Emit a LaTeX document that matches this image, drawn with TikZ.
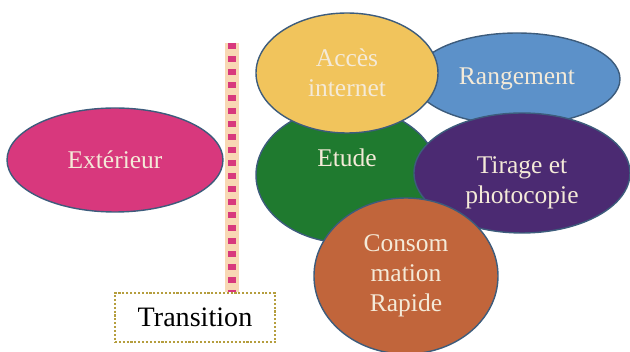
\documentclass[tikz,border=0pt]{standalone}
\usepackage{fontspec}
\setmainfont{Liberation Serif}
\usetikzlibrary{shapes.geometric,positioning}
\definecolor{exterieurpink}{HTML}{D8387D}
\definecolor{accesyellow}{HTML}{F1C45C}
\definecolor{rangeblue}{HTML}{5C91C9}
\definecolor{etudegreen}{HTML}{1F7A2F}
\definecolor{tiragepurple}{HTML}{4B2A72}
\definecolor{consobrown}{HTML}{C1653B}
\definecolor{rimblue}{HTML}{3D5C7C}
\definecolor{paletext}{HTML}{F4EAD8}
\definecolor{peach}{HTML}{F8D8B4}
\definecolor{olivedot}{HTML}{B59E3E}
\begin{document}
\begin{tikzpicture}
[node distance=1cm, font=\fontsize{14.5}{17}\selectfont]
\tikzstyle{zone}=[ellipse, draw=rimblue, line width=0.8pt, inner sep=0mm, text=paletext, align=center]
\useasboundingbox (0,0) rectangle (12.6,7.04);

\node[zone, fill=exterieurpink, minimum width=4.32cm, minimum height=2.08cm] (ext) at (2.30,3.84) {Ext\'erieur};

\node[zone, fill=rangeblue, minimum width=4.12cm, minimum height=1.84cm] (rang) at (10.34,5.46) {Rangement};
\node[zone, fill=etudegreen, minimum width=3.64cm, minimum height=2.72cm, label={[text=paletext, yshift=0.34cm]center:Etude}] (etude) at (6.94,3.54) {};
\node[zone, fill=tiragepurple, minimum width=4.32cm, minimum height=2.40cm, label={[text=paletext, align=center, yshift=-0.2cm]center:Tirage et\\photocopie}] (tir) at (10.44,3.58) {};
\node[zone, fill=accesyellow, minimum width=3.64cm, minimum height=2.40cm] (acces) at (6.94,5.58) {Acc\`es\\internet};
\node[zone, fill=consobrown, minimum width=3.68cm, minimum height=3.12cm] (conso) at (8.12,1.52) {Consom\\mation\\Rapide};

% transition
\node[draw=olivedot, densely dotted, line width=1.2pt, minimum width=3.2cm, minimum height=0.98cm, font=\fontsize{16}{19}\selectfont] (trans) at (3.90,0.69) {Transition};
\coordinate (top) at (4.64,6.18);
\draw[peach, line width=8pt] (top) -- (top |- trans.north);
\draw[exterieurpink, line width=4.4pt, dash pattern=on 3.6pt off 3.8pt] (top) -- (top |- trans.north);

\end{tikzpicture}
\end{document}
